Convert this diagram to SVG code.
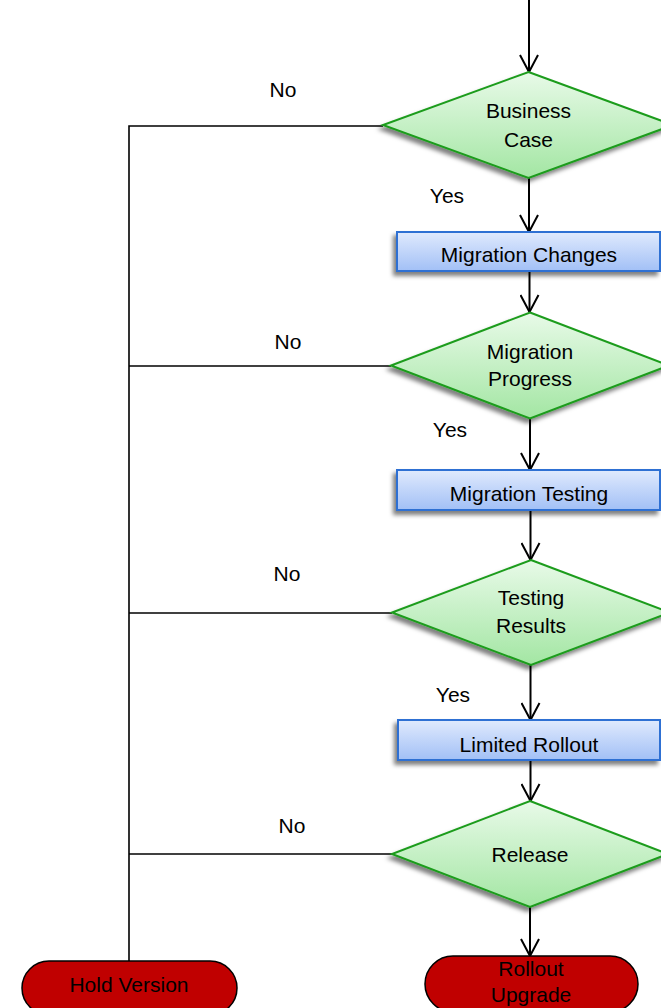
<svg xmlns="http://www.w3.org/2000/svg" width="661" height="1008" viewBox="0 0 661 1008">
<defs>
  <linearGradient id="gDia" x1="0" y1="0" x2="0" y2="1">
    <stop offset="0" stop-color="#e8fae8"/>
    <stop offset="1" stop-color="#a3e6a3"/>
  </linearGradient>
  <linearGradient id="gBox" x1="0" y1="0" x2="0" y2="1">
    <stop offset="0" stop-color="#e0eafd"/>
    <stop offset="1" stop-color="#a2c0f6"/>
  </linearGradient>
  <filter id="sh" x="-20%" y="-20%" width="140%" height="150%">
    <feDropShadow dx="-3" dy="4" stdDeviation="2.2" flood-color="#000" flood-opacity="0.5"/>
  </filter>
  <marker id="arr" viewBox="0 0 20 20" refX="18" refY="10" markerWidth="20" markerHeight="20" markerUnits="userSpaceOnUse" orient="auto">
    <path d="M1,1 L18,10 L1,19" fill="none" stroke="#000" stroke-width="2"/>
  </marker>
</defs>
<style>
  .dia{fill:url(#gDia);stroke:#1c9c1c;stroke-width:2;filter:url(#sh)}
  .box{fill:url(#gBox);stroke:#2f6fd3;stroke-width:2;filter:url(#sh)}
  .term{fill:#c00000;stroke:#000;stroke-width:1.5}
  text{font-family:"Liberation Sans",Arial,sans-serif;font-size:21px;fill:#000;text-anchor:middle}
  .ln{fill:none;stroke:#000;stroke-width:1.6}
  .ar{fill:none;stroke:#000;stroke-width:2;marker-end:url(#arr)}
</style>
<g id="connectors">
  <path class="ar" d="M529,0 L529,72"/>
  <path class="ar" d="M529,178 L529,232"/>
  <path class="ar" d="M529.5,271 L529.5,312"/>
  <path class="ar" d="M530,418 L530,470"/>
  <path class="ar" d="M530.5,510 L530.5,560"/>
  <path class="ar" d="M530.5,665 L530.5,720"/>
  <path class="ar" d="M530.5,760 L530.5,801"/>
  <path class="ar" d="M530,907 L530,956"/>
  <path class="ln" d="M383,126 L129,126 L129,961"/>
  <path class="ln" d="M391,366 L129,366"/>
  <path class="ln" d="M392,613 L129,613"/>
  <path class="ln" d="M392,854 L129,854"/>
  <text x="283" y="97">No</text>
  <text x="447" y="203">Yes</text>
  <text x="288" y="349">No</text>
  <text x="450" y="437">Yes</text>
  <text x="287" y="581">No</text>
  <text x="453" y="702">Yes</text>
  <text x="292" y="833">No</text>
</g>
<g id="business-case">
  <polygon class="dia" points="528.5,72 673,125 528.5,178 383,125"/>
  <text x="528.5" y="118">Business</text>
  <text x="528.5" y="146.5">Case</text>
</g>
<g id="migration-changes">
  <rect class="box" x="397" y="232" width="263" height="39"/>
  <text x="529" y="261.5">Migration Changes</text>
</g>
<g id="migration-progress">
  <polygon class="dia" points="530,312.5 669,365.5 530,418.5 391,365.5"/>
  <text x="530" y="359">Migration</text>
  <text x="530" y="386">Progress</text>
</g>
<g id="migration-testing">
  <rect class="box" x="397" y="470" width="263" height="40"/>
  <text x="529" y="501">Migration Testing</text>
</g>
<g id="testing-results">
  <polygon class="dia" points="531,560 670,612.5 531,665 392,612.5"/>
  <text x="531" y="605">Testing</text>
  <text x="531" y="633">Results</text>
</g>
<g id="limited-rollout">
  <rect class="box" x="398" y="720" width="262" height="40"/>
  <text x="529" y="751.5">Limited Rollout</text>
</g>
<g id="release">
  <polygon class="dia" points="530,801 668,854 530,907 392,854"/>
  <text x="530" y="861.5">Release</text>
</g>
<g id="hold-version">
  <rect class="term" x="22" y="961" width="215" height="54" rx="27"/>
  <text x="129" y="992">Hold Version</text>
</g>
<g id="rollout-upgrade">
  <rect class="term" x="425" y="956" width="213" height="56" rx="28"/>
  <text x="531" y="976">Rollout</text>
  <text x="531" y="1001.5">Upgrade</text>
</g>
</svg>
